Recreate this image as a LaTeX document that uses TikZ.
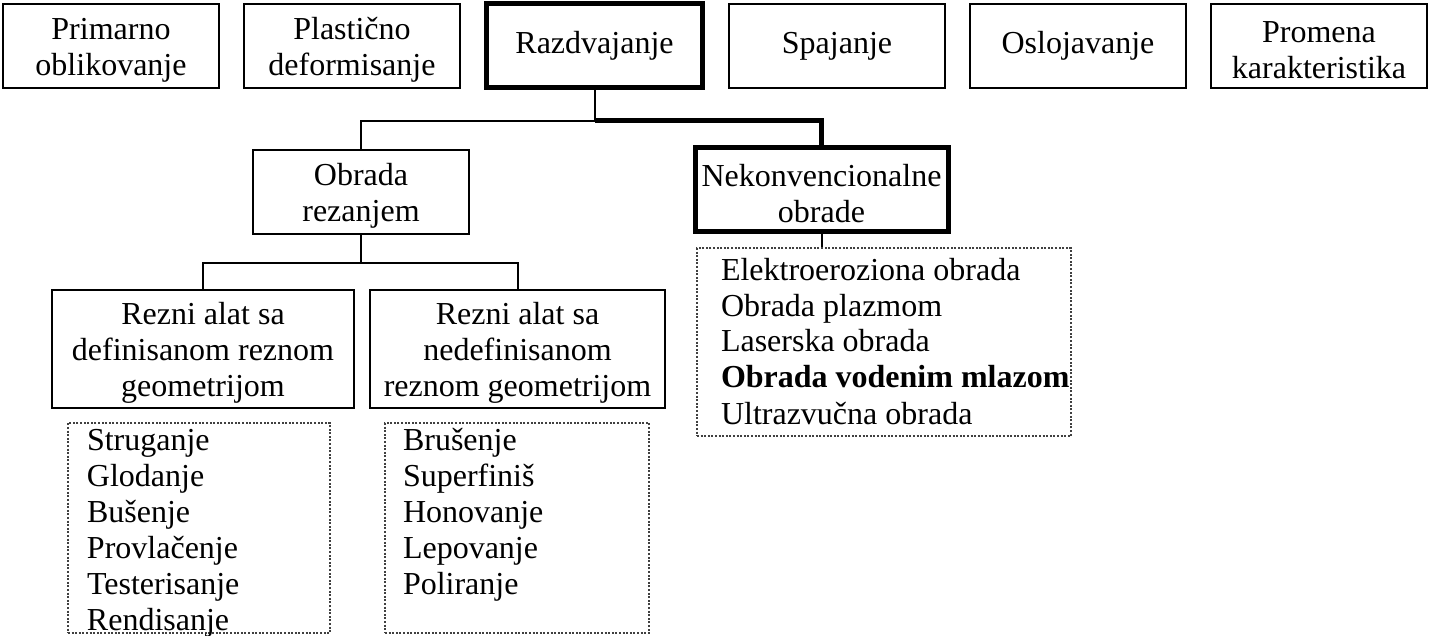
\documentclass[tikz,border=0pt]{standalone}
\usepackage{fontspec}
\setmainfont{Liberation Serif}
\usepackage{tikz}
\usetikzlibrary{positioning}
\newcommand{\proclist}[5]{\parbox[c][#1][t]{#2}{\leftskip=#3\parindent=0pt\rule{0pt}{#4}#5}}
\newcommand{\tall}{\rule{0pt}{14.5pt}}

\begin{document}
\begin{tikzpicture}[x=0.5pt, y=-0.5pt, every node/.style={font=\fontsize{16}{18}\selectfont}, node distance=11.5pt]
  \tikzstyle{group}=[draw, line width=1pt, minimum width=108pt, minimum height=42pt, align=center, inner sep=2pt]
  \tikzstyle{main}=[group, line width=2.5pt]
  \tikzstyle{sub}=[draw, line width=1pt, minimum height=59pt, align=center, inner sep=2pt]
  \tikzstyle{list}=[draw=black!75, dash pattern=on 1pt off 0.8pt, line width=0.6pt, inner sep=0pt]
  \tikzstyle{link}=[line width=1pt]
  \tikzstyle{mainlink}=[line width=2.5pt]
  \useasboundingbox (0,0) rectangle (1429,636);
  % top row
  \node[group] (po) at (111,46) {\tall Primarno\\oblikovanje};
  \node[group, right=of po] (pd) {\tall Plastično\\deformisanje};
  \node[main, right=of pd] (ra) {Razdvajanje};
  \node[group, right=of ra] (sp) {Spajanje};
  \node[group, right=of sp] (os) {Oslojavanje};
  \node[group, right=of os] (pk) {\tall Promena\\karakteristika};
  % second level
  \node[group] (or) at (361,192) {\tall Obrada\\rezanjem};
  \node[main, minimum width=126.5pt] (no) at (821.5,190) {\tall Nekonvencionalne\\obrade};
  % cutting tools
  \node[sub, minimum width=151pt] (rd) at (203,349) {\tall Rezni alat sa\\definisanom reznom\\geometrijom};
  \node[sub, minimum width=147.5pt] (rn) at (517.5,349) {\tall Rezni alat sa\\nedefinisanom\\reznom geometrijom};
  % lists
  \node[list] (ld) at (199,528) {\proclist{105pt}{131pt}{9.5pt}{13.5pt}{Struganje\\Glodanje\\Bušenje\\Provlačenje\\Testerisanje\\Rendisanje}};
  \node[list] (ln) at (517,528) {\proclist{105pt}{132pt}{9pt}{13.5pt}{Brušenje\\Superfiniš\\Honovanje\\Lepovanje\\Poliranje}};
  \node[list] (lo) at (884,342) {\proclist{94pt}{187pt}{12pt}{16pt}{Elektroeroziona obrada\\Obrada plazmom\\Laserska obrada\\\textbf{Obrada vodenim mlazom}\\Ultrazvučna obrada}};
  % connectors
  \coordinate (s1) at (ra.south |- 0,121);
  \coordinate (s2) at (or.south |- 0,263);
  \draw[link] (ra.south) -- (s1) -- (s1 -| or.north) -- (or.north);
  \draw[mainlink] (s1) -- (s1 -| no.north) -- (no.north);
  \draw[link] (or.south) -- (s2);
  \draw[link] (rd.north) -- (rd.north |- s2) -- (rn.north |- s2) -- (rn.north);
  \draw[link] (no.south) -- (no.south |- lo.north);
\end{tikzpicture}
\end{document}
